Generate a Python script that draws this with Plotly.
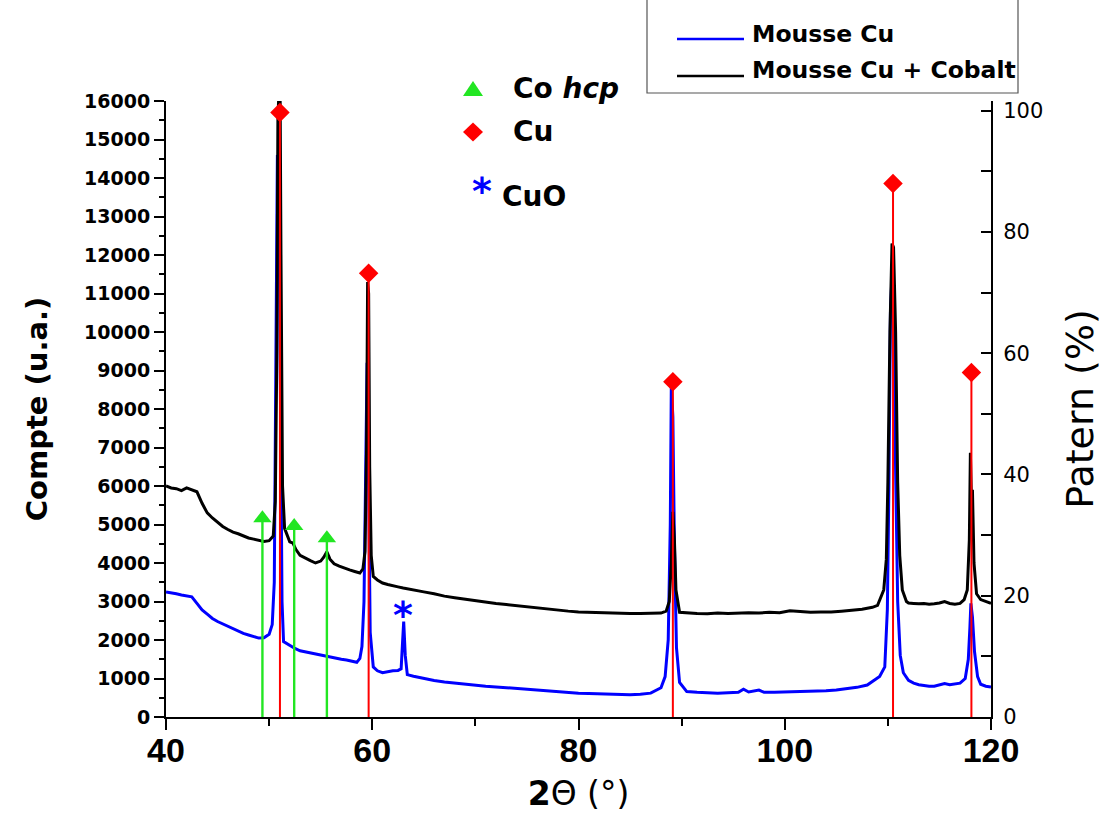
import plotly.graph_objects as go

# ---------------- data ----------------
series_names = ["Mousse Cu", "Mousse Cu + Cobalt"]

theta_cu = [40.0, 40.5, 41.0, 41.5, 42.0, 42.5, 43.0, 43.5, 44.0, 44.5, 45.0, 45.5, 46.0, 46.5,
            47.0, 47.5, 48.0, 48.5, 49.0, 49.5, 50.0, 50.3, 50.5, 50.65, 50.8, 50.95, 51.1, 51.25,
            51.4, 52.0, 52.5, 53.0, 53.5, 54.0, 54.5, 55.0, 55.5, 56.0, 56.5, 57.0, 57.5, 58.0,
            58.5, 58.8, 59.0, 59.2, 59.35, 59.5, 59.65, 59.8, 60.1, 60.5, 61.0, 61.5, 62.0, 62.5,
            62.8, 62.95, 63.05, 63.2, 63.4, 64.0, 65.0, 66.0, 67.0, 68.0, 69.0, 70.0, 71.0, 72.0,
            73.0, 74.0, 75.0, 76.0, 77.0, 78.0, 79.0, 80.0, 81.0, 82.0, 83.0, 84.0, 85.0, 86.0,
            87.0, 88.0, 88.4, 88.7, 88.9, 89.0, 89.15, 89.3, 89.5, 89.8, 90.5, 91.5, 92.5, 93.5,
            94.5, 95.5, 96.0, 96.5, 97.5, 98.0, 99.0, 100.0, 101.0, 102.0, 103.0, 104.0, 105.0,
            106.0, 107.0, 108.0, 108.7, 109.2, 109.7, 109.95, 110.1, 110.25, 110.4, 110.55,
            110.75, 110.95, 111.2, 111.5, 112.0, 112.5, 113.0, 113.5, 114.0, 114.5, 115.0, 115.5,
            116.0, 116.5, 117.0, 117.5, 117.8, 117.95, 118.05, 118.2, 118.4, 118.7, 119.0, 119.5,
            120.0]
counts_cu = [3250, 3230, 3200, 3170, 3150, 3120, 2950, 2780, 2670, 2560, 2480, 2420, 2350, 2280,
             2220, 2170, 2130, 2090, 2050, 2060, 2150, 2400, 3500, 9000, 14600, 13500, 7000, 3000,
             1960, 1850, 1780, 1720, 1690, 1670, 1650, 1620, 1590, 1560, 1530, 1500, 1480, 1450,
             1420, 1520, 1830, 3000, 7000, 9200, 6000, 2200, 1300, 1200, 1150, 1180, 1200, 1210,
             1250, 2000, 2480, 1600, 1100, 1060, 1000, 950, 910, 880, 850, 830, 800, 780,
             760, 730, 710, 690, 670, 650, 630, 620, 610, 600, 590, 580, 580, 590,
             620, 760, 1050, 2000, 5000, 8600, 7800, 4500, 1800, 900, 660, 640, 630, 620,
             630, 640, 720, 650, 700, 640, 640, 650, 650, 660, 660, 680, 700,
             730, 770, 830, 950, 1050, 1300, 2800, 6000, 10500, 11500, 10500,
             6400, 3000, 1600, 1150, 950, 880, 840, 820, 800, 800, 830, 870,
             840, 860, 880, 1000, 1500, 2300, 2950, 2600, 1700, 1050, 850, 800,
             780]

theta_cuco = [40.0, 40.5, 41.0, 41.5, 42.0, 42.5, 43.0, 43.5, 44.0, 44.5, 45.0, 45.5, 46.0, 46.5,
              47.0, 47.5, 48.0, 48.5, 49.0, 49.5, 50.0, 50.4, 50.6, 50.75, 50.85, 50.95, 51.05,
              51.15, 51.3, 51.5, 51.8, 52.0, 52.3, 52.6, 53.0, 53.5, 54.0, 54.5, 55.0, 55.3, 55.6,
              55.9, 56.3, 56.8, 57.3, 57.8, 58.3, 58.8, 59.1, 59.3, 59.45, 59.55, 59.65, 59.75,
              59.9, 60.1, 60.5, 61.0, 61.5, 62.0, 62.5, 63.0, 63.5, 64.0, 65.0, 66.0, 67.0, 68.0,
              69.0, 70.0, 71.0, 72.0, 73.0, 74.0, 75.0, 76.0, 77.0, 78.0, 79.0, 80.0, 81.0, 82.0,
              83.0, 84.0, 85.0, 86.0, 87.0, 88.0, 88.5, 88.8, 89.0, 89.15, 89.3, 89.45, 89.8, 90.5,
              91.5, 92.5, 93.5, 94.5, 95.5, 96.5, 97.5, 98.5, 99.5, 100.5, 101.5, 102.5, 103.5,
              104.5, 105.5, 106.5, 107.5, 108.5, 109.0, 109.6, 109.85, 110.0, 110.2, 110.4, 110.55,
              110.75, 110.95, 111.15, 111.4, 111.8, 112.0, 112.5, 113.0, 113.5, 114.0, 114.5,
              115.0, 115.5, 116.0, 116.5, 117.0, 117.4, 117.7, 117.9, 118.0, 118.1, 118.2, 118.35,
              118.6, 119.0, 119.5, 120.0]
counts_cuco = [6000, 5950, 5930, 5880, 5950, 5900, 5850, 5550, 5300, 5170, 5050, 4950, 4870, 4800,
               4760, 4700, 4650, 4620, 4580, 4560, 4580, 4700, 5600, 9500, 15500, 17000, 17000,
               12000, 6000, 4900, 4700, 4550, 4520, 4350, 4200, 4120, 4060, 4000, 4050, 4150, 4290,
               4100, 3980, 3920, 3860, 3820, 3780, 3740, 3850, 4300, 7000, 11300, 11000, 6500,
               4200, 3650, 3560, 3480, 3440, 3400, 3380, 3350, 3320, 3300, 3250, 3200, 3140, 3100,
               3060, 3030, 2990, 2950, 2920, 2890, 2860, 2830, 2800, 2770, 2750, 2730, 2720, 2710,
               2700, 2690, 2690, 2690, 2690, 2700, 2750, 3000, 4000, 5330, 4600, 3300, 2720, 2700,
               2690, 2680, 2700, 2690, 2700, 2710, 2700, 2720, 2710, 2760, 2740, 2720, 2730,
               2730, 2750, 2780, 2800, 2850, 2900, 3300, 4100, 6100, 10000, 12300, 12200,
               10000, 6100, 4200, 3300, 3000, 2960, 2950, 2940, 2950, 2930, 2940,
               2960, 3000, 2950, 2930, 2950, 3050, 3300, 4600, 6860, 5700, 5900, 4000,
               3200, 3050, 3000, 2950]

# reference patterns (right axis, %)
cu_ref_theta = [51.05, 59.65, 89.15, 110.5, 118.1]
cu_ref_pct = [99.7, 73.2, 55.3, 88.0, 56.8]
co_ref_theta = [49.35, 52.43, 55.6]
co_ref_pct = [32.8, 31.5, 29.5]
cuo_theta = [63.0]
cuo_counts = [2880]

x_ticks = [40, 60, 80, 100, 120]
x_minor = [50, 70, 90, 110]
y_left_ticks = list(range(0, 16001, 1000))
y_right_ticks = [0, 20, 40, 60, 80, 100]
y_right_minor = [10, 30, 50, 70, 90]

# ---------------- layout geometry (reference pixel coords) ----------------
W, H = 1104, 817
L, R, T, B = 166, 991, 101, 717


def px(x):
    return (x - L) / (R - L)


def py(y):
    return (B - y) / (B - T)


BLUE = "#0000FF"
RED = "#FF0000"
GREEN = "#22E622"


def sticks(xs, ys):
    sx, sy = [], []
    for x, y in zip(xs, ys):
        sx += [x, x, None]
        sy += [0, y, None]
    return sx, sy


fig = go.Figure()
fig.add_trace(go.Scatter(x=theta_cu, y=counts_cu, mode="lines", name=series_names[0],
                         line=dict(color=BLUE, width=3), showlegend=False))
fig.add_trace(go.Scatter(x=theta_cuco, y=counts_cuco, mode="lines", name=series_names[1],
                         line=dict(color="black", width=3), showlegend=False))

gx, gy = sticks(co_ref_theta, co_ref_pct)
fig.add_trace(go.Scatter(x=gx, y=gy, mode="lines", yaxis="y2", line=dict(color=GREEN, width=2.4),
                         showlegend=False))
rx, ry = sticks(cu_ref_theta, cu_ref_pct)
fig.add_trace(go.Scatter(x=rx, y=ry, mode="lines", yaxis="y2", line=dict(color=RED, width=2),
                         showlegend=False))
fig.add_trace(go.Scatter(x=co_ref_theta, y=co_ref_pct, mode="markers", yaxis="y2",
                         marker=dict(symbol="triangle-up", size=16, color=GREEN), showlegend=False,
                         cliponaxis=False))
fig.add_trace(go.Scatter(x=cu_ref_theta, y=cu_ref_pct, mode="markers", yaxis="y2",
                         marker=dict(symbol="diamond", size=15, color=RED), showlegend=False,
                         cliponaxis=False))

annotations = []
shapes = []

# CuO star on the plot
annotations.append(dict(x=cuo_theta[0], y=cuo_counts[0], xref="x", yref="y", text="<b>*</b>",
                        showarrow=False, font=dict(family="DejaVu Sans", size=38, color=BLUE),
                        xanchor="center", yanchor="middle", yshift=-9))

# line legend box (top border cut off)
shapes.append(dict(type="rect", xref="paper", yref="paper", x0=px(647), x1=px(1018),
                   y0=py(93), y1=py(-10), line=dict(color="#555555", width=1.2),
                   fillcolor="rgba(0,0,0,0)", layer="above"))
for name, col, yl, yt in [(series_names[0], BLUE, 39, 33.5), (series_names[1], "black", 76, 70.5)]:
    shapes.append(dict(type="line", xref="paper", yref="paper", x0=px(677), x1=px(744),
                       y0=py(yl), y1=py(yl), line=dict(color=col, width=2.6)))
    annotations.append(dict(x=px(750), y=py(yt), xref="paper", yref="paper", text=f"<b>{name}</b>",
                            showarrow=False, xanchor="left", yanchor="middle",
                            font=dict(family="DejaVu Sans", size=23.5, color="black")))

# marker legend
shapes.append(dict(type="path", xref="paper", yref="paper", xsizemode="pixel", ysizemode="pixel",
                   xanchor=px(473), yanchor=py(89), path="M -10 -7 L 10 -7 L 0 8 Z",
                   fillcolor=GREEN, line=dict(width=0)))
shapes.append(dict(type="path", xref="paper", yref="paper", xsizemode="pixel", ysizemode="pixel",
                   xanchor=px(473), yanchor=py(132), path="M -10 0 L 0 9.5 L 10 0 L 0 -9.5 Z",
                   fillcolor=RED, line=dict(width=0)))
annotations.append(dict(x=px(511), y=py(88), xref="paper", yref="paper", text="<b>Co <i>hcp</i></b>",
                        showarrow=False, xanchor="left", yanchor="middle",
                        font=dict(family="DejaVu Sans", size=28, color="black")))
annotations.append(dict(x=px(511), y=py(131), xref="paper", yref="paper", text="<b>Cu</b>",
                        showarrow=False, xanchor="left", yanchor="middle",
                        font=dict(family="DejaVu Sans", size=28, color="black")))
annotations.append(dict(x=px(482), y=py(182), xref="paper", yref="paper", text="<b>*</b>",
                        showarrow=False, xanchor="center", yanchor="middle", yshift=-9,
                        font=dict(family="DejaVu Sans", size=38, color=BLUE)))
annotations.append(dict(x=px(500), y=py(196), xref="paper", yref="paper", text="<b>CuO</b>",
                        showarrow=False, xanchor="left", yanchor="middle",
                        font=dict(family="DejaVu Sans", size=28, color="black")))

fig.update_layout(
    width=W, height=H, autosize=False,
    margin=dict(l=L, r=W - R, t=T, b=H - B),
    plot_bgcolor="white", paper_bgcolor="white",
    showlegend=False,
    xaxis=dict(range=[40, 120], tickmode="array", tickvals=x_ticks, automargin=False,
               ticktext=[str(v) for v in x_ticks], ticklabelstandoff=-9,
               ticks="outside", ticklen=11, tickwidth=2, tickcolor="black",
               showline=True, linewidth=2, linecolor="black", showgrid=False, zeroline=False,
               minor=dict(tickmode="array", tickvals=x_minor, ticks="outside", ticklen=7,
                          tickwidth=2, tickcolor="black", showgrid=False),
               tickfont=dict(family="Liberation Sans Narrow, Liberation Sans", size=34,
                             color="black", weight="bold"),
               title=dict(text="<b>2</b>Θ (°)", standoff=14,
                          font=dict(family="DejaVu Sans", size=33, color="black"))),
    yaxis=dict(range=[0, 16000], tickmode="array", tickvals=y_left_ticks, automargin=False,
               ticktext=[str(v) for v in y_left_ticks],
               ticks="outside", ticklen=10, tickwidth=2, tickcolor="black",
               showline=True, linewidth=2, linecolor="black", showgrid=False, zeroline=False,
               minor=dict(dtick=500, ticks="outside", ticklen=5, tickwidth=2, tickcolor="black",
                          showgrid=False),
               tickfont=dict(family="DejaVu Sans", size=19, color="black", weight="bold"),
               title=dict(text="<b>Compte (u.a.)</b>", standoff=28,
                          font=dict(family="DejaVu Sans", size=29, color="black"))),
    yaxis2=dict(range=[0, 101.6], overlaying="y", side="right", tickmode="array", automargin=False,
                tickvals=y_right_ticks, ticktext=[str(v) for v in y_right_ticks],
                ticklabelstandoff=6,
                ticks="inside", ticklen=10, tickwidth=2, tickcolor="black",
                showline=True, linewidth=2, linecolor="black", showgrid=False, zeroline=False,
                minor=dict(tickmode="array", tickvals=y_right_minor, ticks="inside", ticklen=10,
                           tickwidth=2, tickcolor="black", showgrid=False),
                tickfont=dict(family="DejaVu Sans", size=21, color="black"),
                title=dict(text="Patern (%)", standoff=24,
                           font=dict(family="DejaVu Sans", size=38, color="black"))),
    annotations=annotations,
    shapes=shapes,
)

fig.write_html("out.html", config={"displayModeBar": False},
               post_script="document.body.style.margin='0';document.body.style.padding='0';")
